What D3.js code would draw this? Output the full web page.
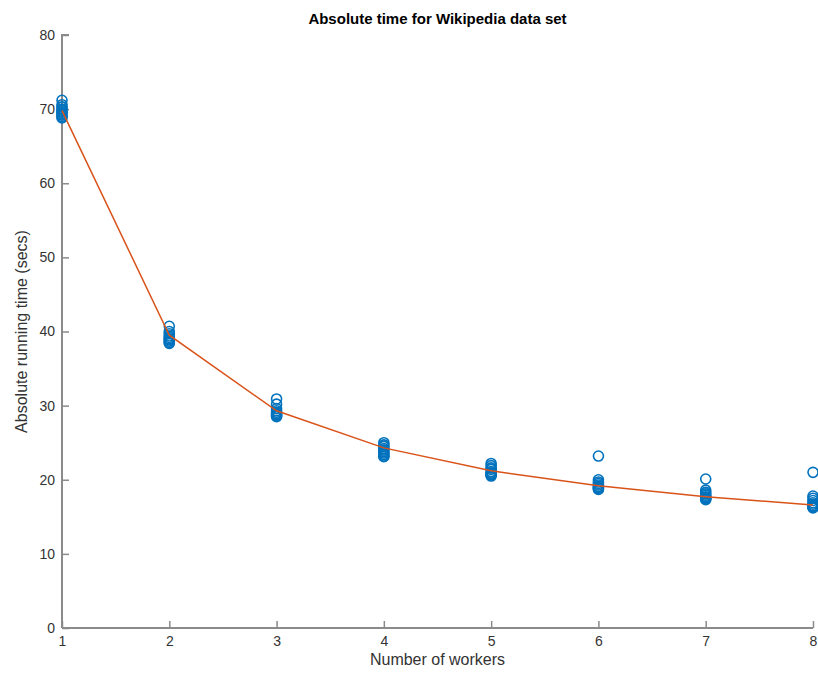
<!DOCTYPE html>
<html>
<head>
<meta charset="utf-8">
<script src="https://cdn.jsdelivr.net/npm/d3@7"></script>
<style>
  body { margin: 0; background: #fff; }
  text { font-family: "Liberation Sans", Arial, sans-serif; }
</style>
</head>
<body>
<div id="chart"></div>
<script>
// number of workers
var workers = [1, 2, 3, 4, 5, 6, 7, 8]

// individual runs per worker count (secs)
var runs1 = [71.2, 70.6, 70.3, 70.0, 69.8, 69.6, 69.4, 69.2, 69.0, 68.8]
var runs2 = [40.7, 40.0, 39.7, 39.4, 39.2, 39.0, 38.9, 38.7, 38.5, 38.4]
var runs3 = [30.9, 30.2, 29.6, 29.3, 29.1, 28.9, 28.8, 28.7, 28.6, 28.5]
var runs4 = [25.0, 24.7, 24.5, 24.2, 24.0, 23.8, 23.6, 23.4, 23.2, 23.1]
var runs5 = [22.2, 21.9, 21.6, 21.4, 21.1, 20.9, 20.8, 20.7, 20.6, 20.5]
var runs6 = [23.2, 20.0, 19.7, 19.5, 19.3, 19.1, 19.0, 18.9, 18.8, 18.7]
var runs7 = [20.1, 18.6, 18.3, 18.1, 17.9, 17.7, 17.6, 17.5, 17.4, 17.3]
var runs8 = [21.0, 17.8, 17.5, 17.2, 16.9, 16.7, 16.5, 16.4, 16.3, 16.2]

// average line
var meanTime = [69.8, 39.5, 29.3, 24.3, 21.2, 19.2, 17.7, 16.6]

var yTicks = [0, 10, 20, 30, 40, 50, 60, 70, 80]

var allRuns = [runs1, runs2, runs3, runs4, runs5, runs6, runs7, runs8]

var width = 818
var height = 673
var plotLeft = 62, plotRight = 813, plotTop = 35, plotBottom = 628

var xScale = d3.scaleLinear().domain([1, 8]).range([plotLeft, plotRight])
var yScale = d3.scaleLinear().domain([0, 80]).range([plotBottom, plotTop])

var svg = d3.select("#chart")
    .append("svg")
    .attr("width", width)
    .attr("height", height)

var axisColor = "#8a8a8a"

// y axis, ticks pointing inward
var axisY = d3.axisRight(yScale).tickValues(yTicks).tickSize(7).tickFormat(d3.format("d"))
var gy = svg.append("g")
    .attr("transform", "translate(" + plotLeft + ",0)")
    .call(axisY)
gy.select(".domain").attr("stroke", axisColor).attr("stroke-width", 2)
    .attr("d", "M0," + plotBottom + "V" + plotTop + "H7")
gy.selectAll(".tick line").attr("stroke", axisColor).attr("stroke-width", 1.5)
gy.selectAll(".tick text")
    .attr("x", -7)
    .attr("text-anchor", "end")
    .attr("fill", "#333")
    .style("font-size", "14px")

// x axis, ticks pointing inward
var axisX = d3.axisTop(xScale).tickValues(workers).tickSize(7).tickFormat(d3.format("d"))
var gx = svg.append("g")
    .attr("transform", "translate(0," + plotBottom + ")")
    .call(axisX)
gx.select(".domain").attr("stroke", axisColor).attr("stroke-width", 2)
    .attr("d", "M" + plotLeft + ",0H" + plotRight)
gx.selectAll(".tick line").attr("stroke", axisColor).attr("stroke-width", 1.5)
gx.selectAll(".tick text")
    .attr("y", 18)
    .attr("dy", 0)
    .attr("fill", "#333")
    .style("font-size", "14px")

// scatter of runs
allRuns.forEach(function (runs, i) {
    svg.append("g")
        .selectAll("circle")
        .data(runs)
        .enter()
        .append("circle")
        .attr("cx", xScale(workers[i]))
        .attr("cy", function (d) { return yScale(d) })
        .attr("r", 5)
        .attr("fill", "none")
        .attr("stroke", "#0072BD")
        .attr("stroke-width", 1.6)
})

// mean line
var meanLine = d3.line()
    .x(function (d, i) { return xScale(workers[i]) })
    .y(function (d) { return yScale(d) })

svg.append("path")
    .datum(meanTime)
    .attr("d", meanLine)
    .attr("fill", "none")
    .attr("stroke", "#D95319")
    .attr("stroke-width", 1.5)

// title and labels
svg.append("text")
    .attr("x", (plotLeft + plotRight) / 2)
    .attr("y", 24)
    .attr("text-anchor", "middle")
    .style("font-size", "15px")
    .style("font-weight", "bold")
    .text("Absolute time for Wikipedia data set")

svg.append("text")
    .attr("x", (plotLeft + plotRight) / 2)
    .attr("y", 665)
    .attr("text-anchor", "middle")
    .attr("fill", "#333")
    .style("font-size", "16px")
    .text("Number of workers")

svg.append("text")
    .attr("transform", "translate(27," + ((plotTop + plotBottom) / 2) + ") rotate(-90)")
    .attr("text-anchor", "middle")
    .attr("fill", "#333")
    .style("font-size", "16px")
    .text("Absolute running time (secs)")
</script>
</body>
</html>
